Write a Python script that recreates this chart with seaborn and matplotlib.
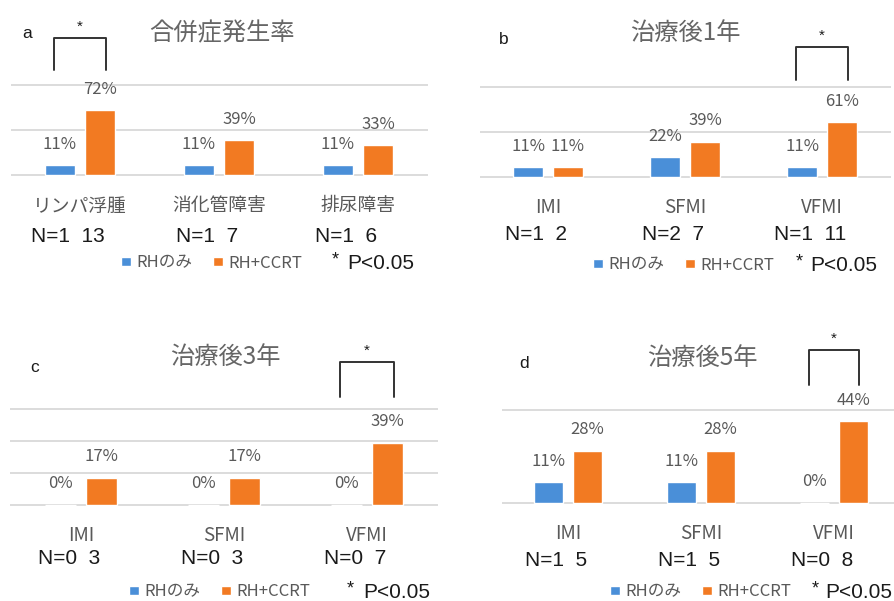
import numpy as np
import pandas as pd
import matplotlib
matplotlib.use("Agg")
import matplotlib.pyplot as plt
import matplotlib.transforms as mtransforms
import seaborn as sns

# ---- data -------------------------------------------------------------
groups = ["RHのみ", "RH+CCRT"]

a_categories = ["リンパ浮腫", "消化管障害", "排尿障害"]
a_rh = [11, 11, 11]
a_ccrt = [72, 39, 33]
a_n_rh = [1, 1, 1]
a_n_ccrt = [13, 7, 6]

b_categories = ["IMI", "SFMI", "VFMI"]
b_rh = [11, 22, 11]
b_ccrt = [11, 39, 61]
b_n_rh = [1, 2, 1]
b_n_ccrt = [2, 7, 11]

c_categories = ["IMI", "SFMI", "VFMI"]
c_rh = [0, 0, 0]
c_ccrt = [17, 17, 39]
c_n_rh = [0, 0, 0]
c_n_ccrt = [3, 3, 7]

d_categories = ["IMI", "SFMI", "VFMI"]
d_rh = [11, 11, 0]
d_ccrt = [28, 28, 44]
d_n_rh = [1, 1, 0]
d_n_ccrt = [5, 5, 8]

titles = ["合併症発生率", "治療後1年", "治療後3年", "治療後5年"]
letters = ["a", "b", "c", "d"]
significant = [0, 2, 2, 2]
p_note = "P<0.05"

# ---- style ------------------------------------------------------------
sns.set_style("white")
plt.rcParams["font.family"] = ["Noto Sans CJK JP", "DejaVu Sans"]

W, H = 894, 601
BLUE = "#4A8FD8"
ORANGE = "#F27A22"
GRAY = "#595959"
TITLE_GRAY = "#666666"
DARK = "#1A1A1A"
GRID = "#D9D9D9"

fig = plt.figure(figsize=(W / 100, H / 100), dpi=100)
fig.patch.set_facecolor("white")


def fx(x):
    return x / W


def fy(y):
    return 1 - y / H


def rect(l, t, r, b):
    return [l / W, 1 - b / H, (r - l) / W, (b - t) / H]


panels = [
    dict(cats=a_categories, rh=a_rh, ccrt=a_ccrt, n_rh=a_n_rh, n_ccrt=a_n_ccrt,
         box=(10.5, 84.3, 427.5, 176), ymax=100, step=50,
         letter=(27, 33), title=(222, 33), n_y=236, leg=(121, 263), star=(335, 347),
         br=(38, 70)),
    dict(cats=b_categories, rh=b_rh, ccrt=b_ccrt, n_rh=b_n_rh, n_ccrt=b_n_ccrt,
         box=(479.5, 86.2, 890.5, 178), ymax=100, step=50,
         letter=(504, 40), title=(685, 33), n_y=235, leg=(593, 265), star=(799, 810),
         br=(47, 80)),
    dict(cats=c_categories, rh=c_rh, ccrt=c_ccrt, n_rh=c_n_rh, n_ccrt=c_n_ccrt,
         box=(9.5, 408, 438.5, 506), ymax=60, step=20,
         letter=(35, 367), title=(225, 357), n_y=558, leg=(129, 592), star=(350, 363),
         br=(362, 397)),
    dict(cats=d_categories, rh=d_rh, ccrt=d_ccrt, n_rh=d_n_rh, n_ccrt=d_n_ccrt,
         box=(501.5, 409, 900.5, 504), ymax=50, step=50,
         letter=(524, 363), title=(702, 358), n_y=560, leg=(610, 592), star=(815, 825),
         br=(350, 385)),
]

for i, p in enumerate(panels):
    ax = fig.add_axes(rect(*p["box"]))
    df = pd.DataFrame({
        "category": list(p["cats"]) * 2,
        "group": [groups[0]] * 3 + [groups[1]] * 3,
        "value": list(p["rh"]) + list(p["ccrt"]),
    })
    sns.barplot(data=df, x="category", y="value", hue="group",
                order=p["cats"], hue_order=groups, palette=[BLUE, ORANGE],
                width=0.58, gap=0.24, ax=ax, legend=True, saturation=1)

    for cont in ax.containers:
        ax.bar_label(cont, labels=[f"{v:.0f}%" for v in cont.datavalues],
                     padding=9, fontsize=12, color=GRAY)

    ymax = p["ymax"]
    eps = ymax * 0.012
    ax.set_ylim(-eps, ymax + eps)
    ax.set_xlim(-0.5, 2.5)
    ax.set_yticks(np.arange(0, ymax + 1, p["step"]))
    ax.yaxis.grid(True, color=GRID, lw=1.3)
    ax.set_axisbelow(True)
    ax.tick_params(axis="y", left=False, labelleft=False)
    ax.tick_params(axis="x", length=0, pad=14, labelsize=13.5, labelcolor=GRAY)
    ax.set_xlabel("")
    ax.set_ylabel("")
    for s in ax.spines.values():
        s.set_visible(False)
    ax.patch.set_alpha(0)

    # legend: coloured squares + group names
    handles, labels = ax.get_legend_handles_labels()
    ax.get_legend().remove()
    ax.legend(handles, labels, loc="center left",
              bbox_to_anchor=(fx(p["leg"][0]), fy(p["leg"][1])),
              bbox_transform=fig.transFigure, ncol=2, frameon=False,
              handlelength=0.6, handleheight=0.45, handletextpad=0.35,
              columnspacing=1.2, fontsize=12, labelcolor=GRAY,
              borderpad=0, borderaxespad=0)
    fig.text(fx(p["star"][0]), fy(p["leg"][1] - 3), "*", fontsize=13,
             color=DARK, ha="center", va="center", family="Liberation Sans")
    fig.text(fx(p["star"][1]), fy(p["leg"][1]), p_note, fontsize=15,
             color=DARK, ha="left", va="center", family="Liberation Sans")

    # sample sizes under each category
    blend = mtransforms.blended_transform_factory(ax.transData, fig.transFigure)
    ntrans = mtransforms.offset_copy(blend, fig=fig, x=-12, units="dots")
    for k in range(3):
        ax.text(k, fy(p["n_y"]), f"N={p['n_rh'][k]}  {p['n_ccrt'][k]}",
                transform=ntrans, ha="center", va="center", fontsize=15,
                color=DARK, family="Liberation Sans")

    # significance bracket
    k = significant[i]
    top, bot = p["br"]
    x0, x1 = k - 0.19, k + 0.19
    ax.plot([x0, x0, x1, x1], [fy(bot), fy(top), fy(top), fy(bot)],
            transform=blend, color="#333333", lw=1.4, clip_on=False)
    ax.text((x0 + x1) / 2, fy(top - 11), "*", transform=blend, ha="center",
            va="center", fontsize=11, color=DARK, family="Liberation Sans")

    # panel letter and title
    fig.text(fx(p["letter"][0]), fy(p["letter"][1]), letters[i], fontsize=12.5,
             color=DARK, ha="center", va="center", family="Liberation Sans")
    fig.text(fx(p["title"][0]), fy(p["title"][1]), titles[i], fontsize=17.5,
             color=TITLE_GRAY, ha="center", va="center")

fig.savefig("out.png", dpi=100, facecolor="white")
